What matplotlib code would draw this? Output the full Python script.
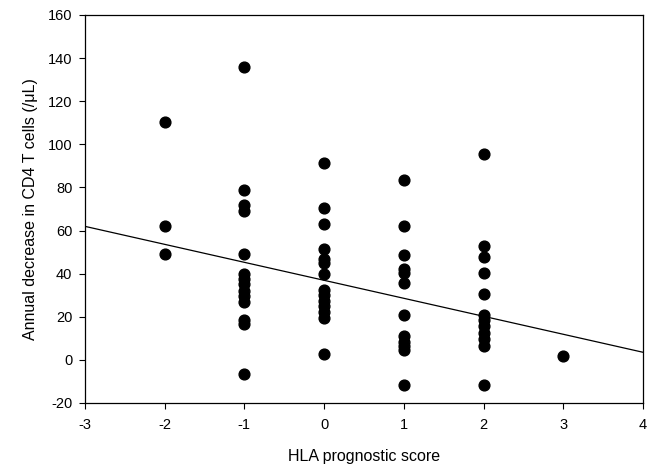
import numpy as np
import matplotlib.pyplot as plt

plt.rcParams['font.family'] = ['Liberation Sans', 'DejaVu Sans']
plt.rcParams['axes.unicode_minus'] = False

# HLA prognostic score groups and annual CD4 decrease (/uL)
score_m2 = [110.5, 62, 49]
score_m1 = [136, 79, 72, 69, 49, 40, 37.5, 35, 32, 29.5, 27, 18.5, 16.5, -6.5]
score_0 = [91.5, 70.5, 63, 51.5, 47, 45, 40, 32.5, 30, 27.5, 25, 22, 19.5, 2.5]
score_1 = [83.5, 62, 48.5, 42, 40.5, 35.5, 21, 11, 8.5, 6.5, 4.5, -11.5]
score_2 = [95.5, 53, 47.5, 40.5, 30.5, 21, 18.5, 15.5, 12.5, 9.5, 6.5, -11.5]
score_3 = [2]

groups = {-2: score_m2, -1: score_m1, 0: score_0, 1: score_1, 2: score_2, 3: score_3}

# regression line
fit_slope = -8.35
fit_intercept = 36.9

xticks = [-3, -2, -1, 0, 1, 2, 3, 4]
yticks = [-20, 0, 20, 40, 60, 80, 100, 120, 140, 160]

fig = plt.figure(figsize=(6.47, 4.68), dpi=100)
ax = fig.add_axes([0.131, 0.139, 0.863, 0.829])

xs = []
ys = []
for score, vals in groups.items():
    xs += [score] * len(vals)
    ys += vals
ax.scatter(xs, ys, s=60, color='black', zorder=3)

line_x = np.array([-3, 4])
ax.plot(line_x, fit_intercept + fit_slope * line_x, color='black', lw=0.9)

ax.set_xlim(-3, 4)
ax.set_ylim(-20, 160)
ax.set_xticks(xticks)
ax.set_yticks(yticks)
ax.tick_params(direction='out', length=4, width=0.8, labelsize=10.5, top=False, right=False)
ax.tick_params(axis='x', pad=7)
ax.tick_params(axis='y', pad=5)
for sp in ax.spines.values():
    sp.set_linewidth(0.9)

ax.set_xlabel('HLA prognostic score', fontsize=11.5, labelpad=12)
ax.set_ylabel('Annual decrease in CD4 T cells (/\u03bcL)', fontsize=11.5, labelpad=7)

fig.savefig('out.png', dpi=100)
